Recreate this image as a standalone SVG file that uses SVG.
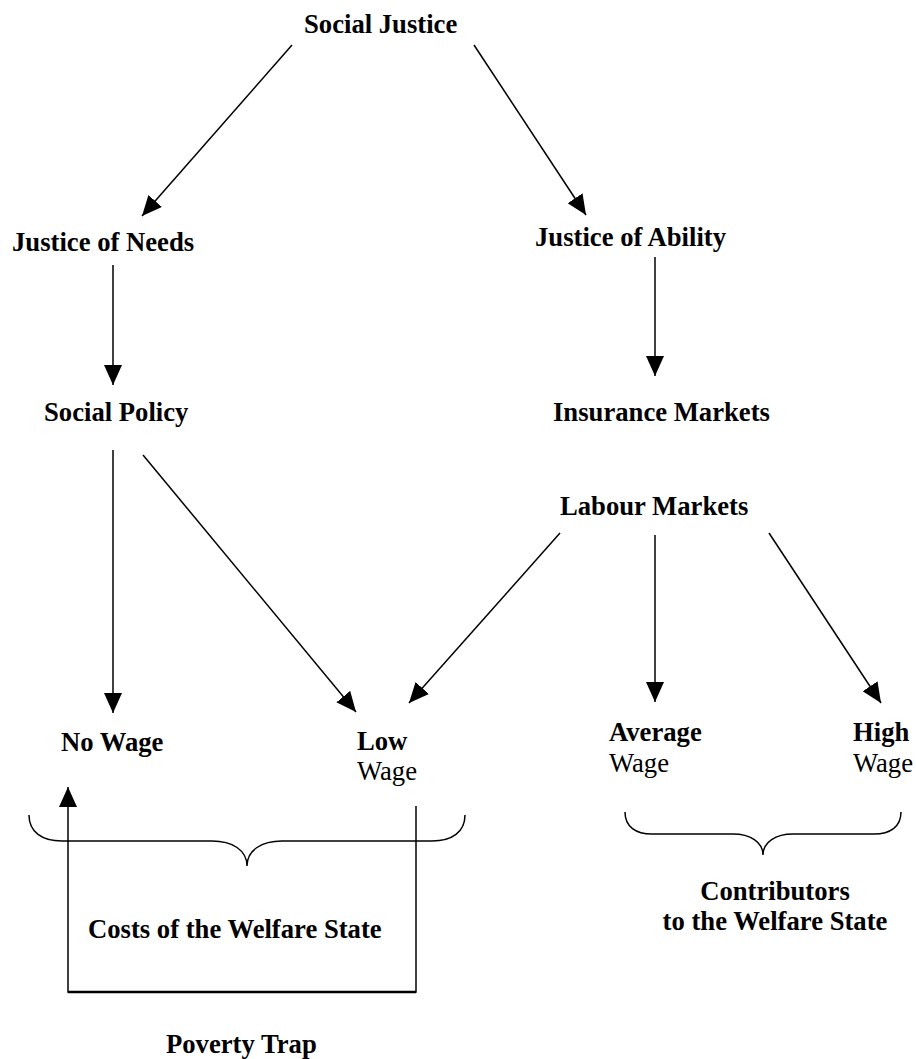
<svg xmlns="http://www.w3.org/2000/svg" width="916" height="1059" viewBox="0 0 916 1059">
<style>
.b{font-family:"Liberation Serif","Times New Roman",serif;font-size:26.67px;font-weight:bold;fill:#000}
.r{font-family:"Liberation Serif","Times New Roman",serif;font-size:26.67px;font-weight:normal;fill:#000}
.c{text-anchor:middle}
.ln{stroke:#000;stroke-width:1.5;fill:none}
</style>
<defs>
<marker id="ah" markerUnits="userSpaceOnUse" markerWidth="20" markerHeight="18" refX="20" refY="9" orient="auto">
<path d="M0,0 L20,9 L0,18 z" fill="#000"/>
</marker>
</defs>
<rect width="916" height="1059" fill="#fff"/>
<g id="connectors">
<line class="ln" x1="292" y1="45" x2="142" y2="216" marker-end="url(#ah)"/>
<line class="ln" x1="474" y1="45" x2="586" y2="215" marker-end="url(#ah)"/>
<line class="ln" x1="113" y1="265" x2="113" y2="385" marker-end="url(#ah)"/>
<line class="ln" x1="655" y1="257" x2="655" y2="376" marker-end="url(#ah)"/>
<line class="ln" x1="113" y1="450" x2="113" y2="713" marker-end="url(#ah)"/>
<line class="ln" x1="143" y1="455" x2="356" y2="712" marker-end="url(#ah)"/>
<line class="ln" x1="560" y1="533" x2="409" y2="703" marker-end="url(#ah)"/>
<line class="ln" x1="655" y1="535" x2="655" y2="702" marker-end="url(#ah)"/>
<line class="ln" x1="769" y1="533" x2="881" y2="703" marker-end="url(#ah)"/>
<polyline class="ln" points="416,806 416,992 68,992 68,787" marker-end="url(#ah)"/>
<line x1="68" y1="992" x2="416" y2="992" stroke="#000" stroke-width="2.5"/>
</g>
<g id="braces">
<path class="ln" d="M29,815 C29,832 42,841 62,841 L212,841 C232,841 247,850 247,866 C247,850 262,841 282,841 L432,841 C452,841 465,832 465,815"/>
<path class="ln" d="M625,812 C625,827 636,834 652,834 L733,834 C750,834 763,842 763,855 C763,842 776,834 793,834 L874,834 C890,834 901,827 901,812"/>
</g>
<g id="social-justice"><text class="b" x="304" y="33">Social Justice</text></g>
<g id="justice-of-needs"><text class="b" x="12" y="251">Justice of Needs</text></g>
<g id="justice-of-ability"><text class="b" x="535" y="246">Justice of Ability</text></g>
<g id="social-policy"><text class="b" x="44" y="421">Social Policy</text></g>
<g id="insurance-markets"><text class="b" x="553" y="421">Insurance Markets</text></g>
<g id="labour-markets"><text class="b" x="560" y="515">Labour Markets</text></g>
<g id="no-wage"><text class="b" x="61" y="751">No Wage</text></g>
<g id="low-wage"><text class="b" x="357" y="750">Low</text><text class="r" x="357" y="780">Wage</text></g>
<g id="average-wage"><text class="b" x="609" y="741">Average</text><text class="r" x="609" y="772">Wage</text></g>
<g id="high-wage"><text class="b" x="853" y="741">High</text><text class="r" x="853" y="772">Wage</text></g>
<g id="costs"><text class="b" x="88" y="938">Costs of the Welfare State</text></g>
<g id="contributors"><text class="b c" x="775" y="900">Contributors</text><text class="b c" x="775" y="930">to the Welfare State</text></g>
<g id="poverty-trap"><text class="b" x="166" y="1053">Poverty Trap</text></g>
</svg>
